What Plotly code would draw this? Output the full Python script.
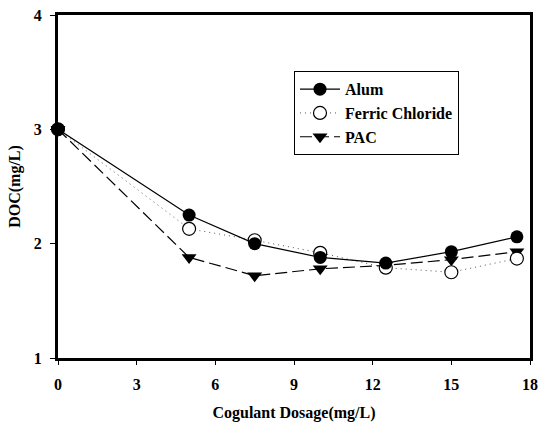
import plotly.graph_objects as go

dosage = [0, 5, 7.5, 10, 12.5, 15, 17.5]
alum = [3.0, 2.25, 2.0, 1.88, 1.83, 1.93, 2.06]
ferric = [3.0, 2.13, 2.03, 1.92, 1.79, 1.75, 1.87]
pac = [3.0, 1.88, 1.72, 1.78, 1.81, 1.86, 1.93]

x_ticks = [0, 3, 6, 9, 12, 15, 18]
y_ticks = [1, 2, 3, 4]

font_family = "Liberation Serif, Times New Roman, serif"

fig = go.Figure()
fig.add_trace(go.Scatter(
    x=dosage, y=pac, name="PAC", mode="lines+markers",
    line=dict(color="black", width=1.2, dash="12px,5px"),
    marker=dict(symbol="triangle-down", size=13, color="black"),
    cliponaxis=False, legendrank=3))
fig.add_trace(go.Scatter(
    x=dosage, y=ferric, name="Ferric Chloride", mode="lines+markers",
    line=dict(color="#555555", width=1, dash="1px,4px"),
    marker=dict(symbol="circle", size=13, color="white", line=dict(color="black", width=1.2)),
    cliponaxis=False, legendrank=2))
fig.add_trace(go.Scatter(
    x=dosage, y=alum, name="Alum", mode="lines+markers",
    line=dict(color="black", width=1.2),
    marker=dict(symbol="circle", size=13, color="black"),
    cliponaxis=False, legendrank=1))

fig.update_layout(
    width=546, height=422,
    margin=dict(l=58, r=16, t=15, b=64),
    paper_bgcolor="white", plot_bgcolor="white",
    font=dict(family=font_family, size=16, color="black"),
    showlegend=True,
    legend=dict(
        x=0.5, y=0.836, xanchor="left", yanchor="top",
        bordercolor="black", borderwidth=1, bgcolor="white",
        font=dict(family=font_family, size=16, color="black", weight="bold"),
        tracegroupgap=0, itemwidth=40,
    ),
    xaxis=dict(
        range=[0, 18], tickvals=x_ticks, ticktext=[str(v) for v in x_ticks],
        showgrid=False, zeroline=False, showline=True, linecolor="black", linewidth=3,
        mirror=True, ticks="outside", ticklen=4, tickwidth=1, tickcolor="black",
        ticklabelstandoff=6, automargin=False,
        tickfont=dict(family=font_family, size=16, weight="bold"),
        title=dict(text="<b>Cogulant Dosage(mg/L)</b>", font=dict(family=font_family, size=16), standoff=16),
    ),
    yaxis=dict(
        range=[1, 4], tickvals=y_ticks, ticktext=[str(v) for v in y_ticks],
        showgrid=False, zeroline=False, showline=True, linecolor="black", linewidth=3,
        mirror=True, ticks="outside", ticklen=5, tickwidth=1, tickcolor="black",
        ticklabelstandoff=5, automargin=False,
        tickfont=dict(family=font_family, size=16, weight="bold"),
        title=dict(text="<b>DOC(mg/L)</b>", font=dict(family=font_family, size=16), standoff=10),
    ),
)

fig.write_html("out.html")
